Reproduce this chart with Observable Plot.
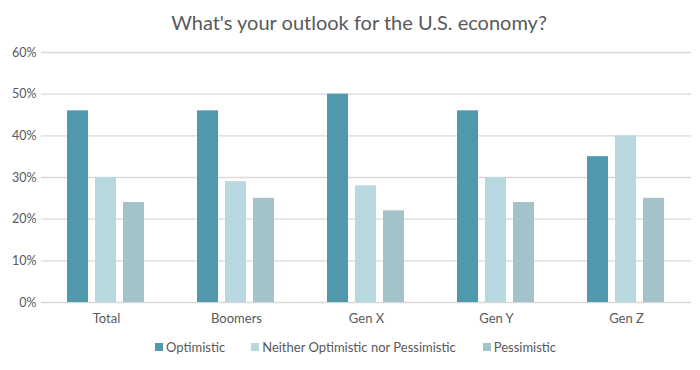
<!DOCTYPE html>
<html>
<head>
<meta charset="utf-8">
<script src="https://cdn.jsdelivr.net/npm/d3@7"></script>
<script src="https://cdn.jsdelivr.net/npm/@observablehq/plot@0.6"></script>
<style>
  html, body { margin: 0; padding: 0; background: #fff; }
  body { width: 700px; height: 370px; overflow: hidden; font-family: Lato, "Open Sans", sans-serif; }
  #title { height: 40px; line-height: 40px; text-align: center; font-size: 20px; color: #595959; padding-left: 18px; padding-top: 2px; box-sizing: border-box; }
  #chart svg { display: block; }
  #legend { display: flex; justify-content: flex-start; align-items: center; font-size: 13px; color: #595959; margin-left: 155px; margin-top: 7px; }
  .item { display: flex; align-items: center; margin-right: 0; }
  .sw { width: 8px; height: 8px; margin-right: 3px; }
</style>
</head>
<body>
<div id="title">What's your outlook for the U.S. economy?</div>
<div id="chart"></div>
<div id="legend"></div>
<script>
const categories = ["Total", "Boomers", "Gen X", "Gen Y", "Gen Z"];
const seriesNames = ["Optimistic", "Neither Optimistic nor Pessimistic", "Pessimistic"];
const optimistic = [0.46, 0.46, 0.50, 0.46, 0.35];
const neither = [0.30, 0.29, 0.28, 0.30, 0.40];
const pessimistic = [0.24, 0.25, 0.22, 0.24, 0.25];
const colors = ["#4f98ad", "#b8d8df", "#a3c2ca"];
const yTicks = [0, 0.1, 0.2, 0.3, 0.4, 0.5, 0.6];

const seriesValues = [optimistic, neither, pessimistic];
const data = [];
categories.forEach((c, i) => {
  seriesNames.forEach((s, j) => {
    data.push({category: c, series: s, value: seriesValues[j][i]});
  });
});

const chart = Plot.plot({
  width: 700,
  height: 292,
  marginLeft: 40,
  marginRight: 8,
  marginTop: 12,
  marginBottom: 30,
  style: {fontFamily: "Lato, 'Open Sans', sans-serif", fontSize: "12.5px", color: "#595959", background: "#fff"},
  facet: {data, x: "category"},
  fx: {domain: categories, padding: 0, label: null, axis: "bottom", tickSize: 0, tickPadding: 11},
  x: {domain: seriesNames, axis: null, paddingInner: 0.24, paddingOuter: 0.88},
  y: {domain: [0, 0.6], ticks: yTicks, tickFormat: d3.format(".0%"), label: null, tickSize: 0, tickPadding: 5, grid: false},
  color: {domain: seriesNames, range: colors},
  marks: [
    Plot.ruleY(yTicks, {stroke: "#d9d9d9", strokeWidth: 1.3}),
    Plot.barY(data, {x: "series", y: "value", fill: "series"})
  ]
});
document.getElementById("chart").appendChild(chart);
chart.querySelectorAll("g[aria-label='fx-axis'] text, g[aria-label='fx-axis tick label'] text").forEach(t => t.style.fontSize = "13px");

const legend = document.getElementById("legend");
const gaps = [26, 27, 0];
seriesNames.forEach((s, j) => {
  const item = document.createElement("div");
  item.className = "item";
  item.style.marginRight = gaps[j] + "px";
  const sw = document.createElement("div");
  sw.className = "sw";
  sw.style.background = colors[j];
  const t = document.createElement("span");
  t.textContent = s;
  item.appendChild(sw);
  item.appendChild(t);
  legend.appendChild(item);
});
</script>
</body>
</html>
